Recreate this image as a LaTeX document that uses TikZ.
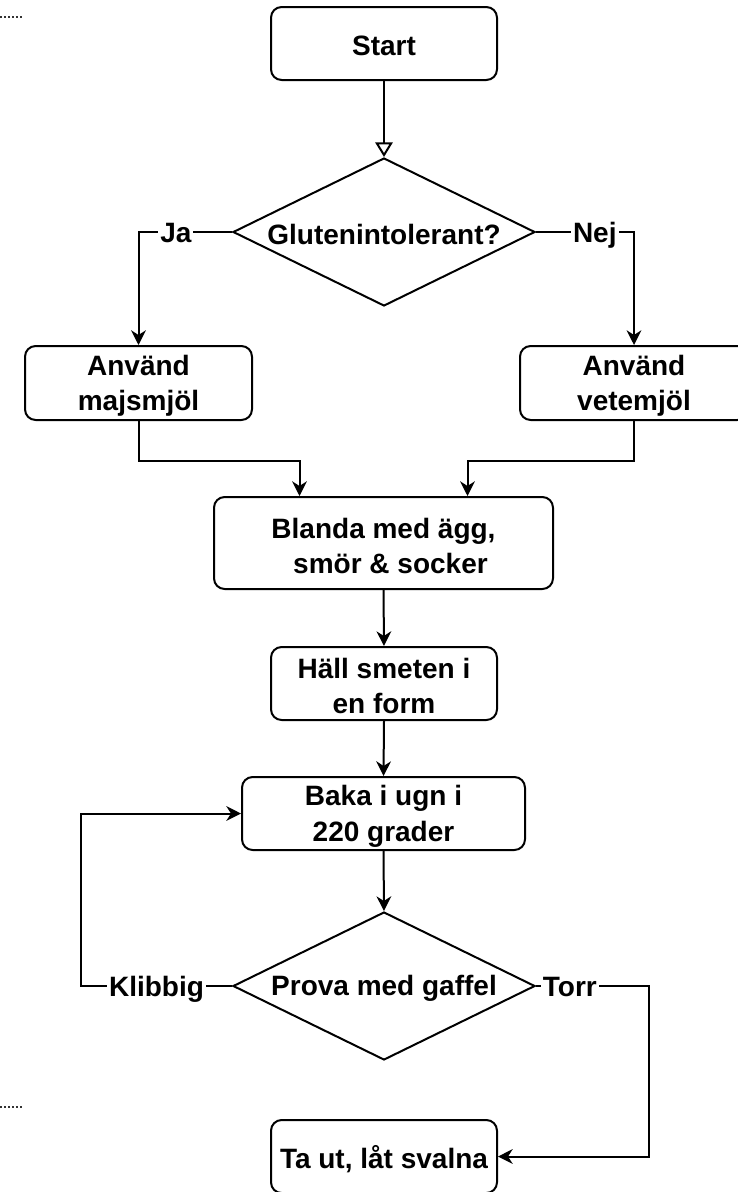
\documentclass[tikz,border=0pt]{standalone}
\usepackage{fontspec}
\setmainfont{Liberation Sans}
\usetikzlibrary{shapes.geometric,arrows.meta,calc}
\tikzset{
  base/.style={draw=black, line width=1.5pt, fill=white, inner sep=0pt},
  stepbox/.style={base, rectangle, rounded corners=8pt, minimum height=54.75pt},
  decision/.style={base, diamond, minimum width=226.5pt, minimum height=111pt},
  txt/.style={inner sep=0pt, align=center, yshift=-2pt,
    font=\fontsize{21}{26.5}\selectfont\bfseries},
  lbl/.style={inner sep=1.5pt, fill=white, text height=0.72em, text depth=0pt,
    yshift=-4pt, font=\fontsize{21}{26.5}\selectfont\bfseries},
  arr/.style={line width=1.5pt, -{Stealth[length=11pt,width=11pt,inset=3.5pt]}},
  openarr/.style={line width=1.5pt, -{Triangle[open,length=11pt,width=13pt]}},
  dots/.style={line width=1.5pt, draw=black!80, dash pattern=on 1.5pt off 1.5pt}
}
\begin{document}
\begin{tikzpicture}[x=0.75pt,y=-0.75pt]
\useasboundingbox (0,0) rectangle (738,1192);
\clip (0,0) rectangle (738,1192);

% small dotted marks at the left edge
\coordinate (m1a) at (0,17);
\coordinate (m1b) at (22,17);
\coordinate (m2a) at (0,1107);
\coordinate (m2b) at (22,1107);
\draw[dots] (m1a) -- (m1b);
\draw[dots] (m2a) -- (m2b);

% boxes
\node[stepbox, minimum width=169.5pt] (start) at (384,43.5) {};
\node[decision] (d1) at (384,232) {};
\node[stepbox, minimum width=170.25pt, minimum height=55.5pt] (majs) at (138.5,383) {};
\node[stepbox, minimum width=171pt, minimum height=55.5pt] (vete) at (634,383) {};
\node[stepbox, minimum width=254.25pt, minimum height=69pt] (blanda) at (383.5,543) {};
\node[stepbox, minimum width=169.5pt] (hall) at (384,683.5) {};
\node[stepbox, minimum width=212.25pt] (baka) at (383.5,813.5) {};
\node[decision] (d2) at (384,986) {};
\node[stepbox, minimum width=169.5pt] (taut) at (384,1156.5) {};

% texts
\node[txt] (startT) at (start) {Start};
\node[txt] (d1T) at (d1) {Glutenintolerant?};
\node[txt] (majsT) at (majs) {Använd\\majsmjöl};
\node[txt] (veteT) at (vete) {Använd\\vetemjöl};
\node[txt] (blandaT) at (blanda) {Blanda med ägg,\\\hspace*{0.5em}smör \& socker};
\node[txt] (hallT) at (hall) {Häll smeten i\\en form};
\node[txt] (bakaT) at (baka) {Baka i ugn i\\220 grader};
\node[txt] (d2T) at (d2) {Prova med gaffel};
\node[txt] (tautT) at (taut) {Ta ut, låt svalna};

% connectors
\draw[openarr] (start.south) -- (d1.north);
\draw[arr] (d1.west) -| node[lbl, pos=0.3] {Ja} (majs.north);
\draw[arr] (d1.east) -| node[lbl, pos=0.3] {Nej} (vete.north);
\draw[arr] (majs.south) -- ++(0,40) -| ($(blanda.north)+(-84,0)$);
\draw[arr] (vete.south) -- ++(0,40) -| ($(blanda.north)+(84,0)$);
\draw[arr] (blanda.south) -- (hall.north);
\draw[arr] (hall.south) -- (baka.north);
\draw[arr] (baka.south) -- (d2.north);
\draw[arr] (d2.west) -- node[lbl] {Klibbig} ++(-151,0) |- (baka.west);
\draw[arr] (d2.east) -- node[lbl, pos=0.3] {Torr} ++(113,0) |- (taut.east);
\end{tikzpicture}
\end{document}
